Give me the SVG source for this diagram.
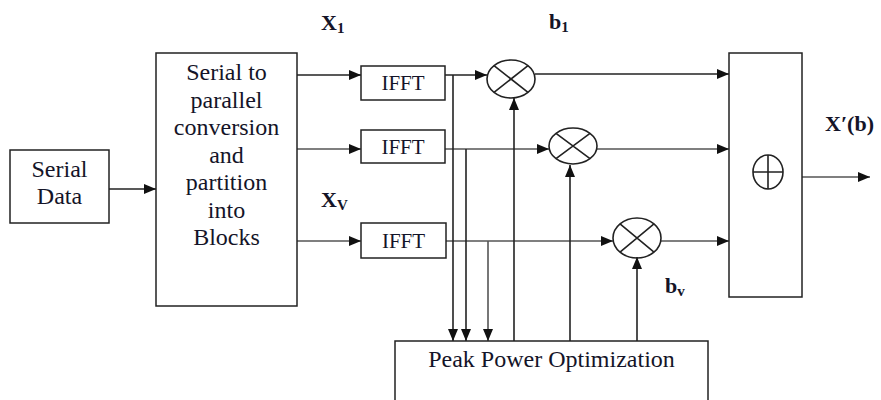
<svg xmlns="http://www.w3.org/2000/svg" width="881" height="400" viewBox="0 0 881 400">
<defs>
<marker id="ah" markerUnits="userSpaceOnUse" markerWidth="12" markerHeight="10" refX="12" refY="5" orient="auto">
<path d="M0,0 L12,5 L0,10 Z" fill="#111"/>
</marker>
<style>
.box{fill:#fff;stroke:#222;stroke-width:1.5}
.t{font-family:"Liberation Serif","Times New Roman",serif;font-size:24px;fill:#141428;text-anchor:middle}
.ti{font-family:"Liberation Serif","Times New Roman",serif;font-size:21px;fill:#141428;text-anchor:middle}
.lb{font-family:"Liberation Serif","Times New Roman",serif;font-size:22px;font-weight:bold;fill:#141428}
.sub{font-size:15px}
.c{fill:none;stroke:#222;stroke-width:1.6}
.cg{fill:none;stroke:#555;stroke-width:1.6}
.sym{fill:none;stroke:#222;stroke-width:1.6}
</style>
</defs>
<rect width="881" height="400" fill="#fff"/>

<g id="connectors">
<path class="c" d="M109,189 H156" marker-end="url(#ah)"/>
<path class="c" d="M297,75 H361" marker-end="url(#ah)"/>
<path class="cg" d="M297,149 H361" marker-end="url(#ah)"/>
<path class="cg" d="M297,241 H361" marker-end="url(#ah)"/>
<path class="c" d="M445,75 H487" marker-end="url(#ah)"/>
<path class="cg" d="M445,149 H549" marker-end="url(#ah)"/>
<path class="cg" d="M446,241 H613" marker-end="url(#ah)"/>
<path class="c" d="M453,75 V341" marker-end="url(#ah)"/>
<path class="c" d="M466,149 V341" marker-end="url(#ah)"/>
<path class="cg" d="M488,241 V341" marker-end="url(#ah)"/>
<path class="c" d="M514,341 V98" marker-end="url(#ah)"/>
<path class="c" d="M570,341 V165" marker-end="url(#ah)"/>
<path class="c" d="M637,341 V257" marker-end="url(#ah)"/>
<path class="c" d="M535,74 H729" marker-end="url(#ah)"/>
<path class="cg" d="M597,149 H729" marker-end="url(#ah)"/>
<path class="cg" d="M661,241 H729" marker-end="url(#ah)"/>
<path class="cg" d="M802,177 H870" marker-end="url(#ah)"/>
</g>

<g id="serial-data">
<rect class="box" x="10" y="150" width="99" height="73"/>
<text class="t" x="59.5" y="177">Serial</text>
<text class="t" x="59.5" y="204">Data</text>
</g>

<g id="s2p">
<rect class="box" x="156" y="53" width="141" height="253"/>
<text class="t" x="226.5" y="80">Serial to</text>
<text class="t" x="226.5" y="107.5">parallel</text>
<text class="t" x="226.5" y="135">conversion</text>
<text class="t" x="226.5" y="162.5">and</text>
<text class="t" x="226.5" y="190">partition</text>
<text class="t" x="226.5" y="217.5">into</text>
<text class="t" x="226.5" y="245">Blocks</text>
</g>

<g id="ifft1">
<rect class="box" x="361" y="66" width="84" height="34"/>
<text class="ti" x="403" y="90">IFFT</text>
</g>
<g id="ifft2">
<rect class="box" x="361" y="130" width="84" height="33"/>
<text class="ti" x="403" y="154">IFFT</text>
</g>
<g id="ifftv">
<rect class="box" x="361" y="223" width="85" height="35"/>
<text class="ti" x="403.5" y="248">IFFT</text>
</g>

<g id="mult1">
<ellipse class="sym" cx="511" cy="79" rx="24" ry="19"/>
<path class="sym" d="M494,65.6 L528,92.4 M528,65.6 L494,92.4"/>
</g>
<g id="mult2">
<ellipse class="sym" cx="573" cy="146" rx="24" ry="18"/>
<path class="sym" d="M556,133.3 L590,158.7 M590,133.3 L556,158.7"/>
</g>
<g id="mult3">
<ellipse class="sym" cx="637" cy="238" rx="24" ry="20"/>
<path class="sym" d="M620,223.9 L654,252.1 M654,223.9 L620,252.1"/>
</g>

<g id="combiner">
<rect class="box" x="729" y="53" width="73" height="244"/>
<ellipse class="sym" cx="768" cy="172" rx="15" ry="17"/>
<path class="sym" d="M753,172 H783 M768,155 V189"/>
</g>

<g id="ppo">
<rect class="box" x="395" y="341" width="313" height="62"/>
<text class="t" x="551.5" y="367">Peak Power Optimization</text>
</g>

<g id="labels">
<text class="lb" x="321" y="30">X<tspan class="sub" dy="3">1</tspan></text>
<text class="lb" x="549" y="29">b<tspan class="sub" dy="3">1</tspan></text>
<text class="lb" x="321" y="207">X<tspan class="sub" dy="3">V</tspan></text>
<text class="lb" x="665" y="293">b<tspan class="sub" dy="3">v</tspan></text>
<text class="lb" x="825" y="131">X′(b)</text>
</g>
</svg>
